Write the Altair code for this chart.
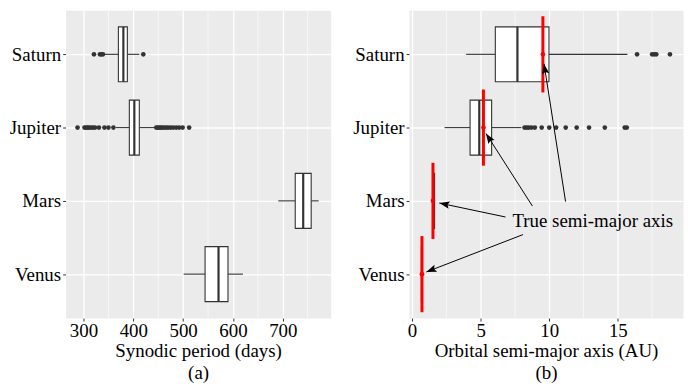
import math
import altair as alt
import pandas as pd

# ---------------- data ----------------
planets = ["Venus", "Mars", "Jupiter", "Saturn"]
positions = [1, 2, 3, 4]

# (a) synodic period, days
syn_lo = [501, 691, 365, 343]
syn_q1 = [544, 725, 392, 370]
syn_med = [571, 741, 402, 380]
syn_q3 = [590, 757, 412, 388]
syn_hi = [620, 772, 444, 412]
syn_out_jupiter = [288, 302, 305, 308, 311, 315, 319, 323, 331, 342, 350, 360,
                   446, 449, 452, 455, 458, 462, 466, 470, 475, 480, 486, 492, 499, 512]
syn_out_saturn = [321, 333, 336, 339, 420]

# (b) orbital semi-major axis, AU
au_lo = [0.70, 1.49, 2.37, 3.94]
au_q1 = [0.71, 1.50, 4.23, 6.07]
au_med = [0.72, 1.55, 4.90, 7.68]
au_q3 = [0.74, 1.64, 5.80, 9.98]
au_hi = [0.75, 1.65, 7.97, 15.70]
au_out_jupiter = [8.2, 8.35, 8.5, 8.7, 8.95, 9.45, 10.0, 10.5, 11.2, 12.0, 12.9, 14.05, 15.5, 15.65]
au_out_saturn = [16.4, 17.5, 17.65, 17.8, 18.8]
true_axis = [0.723, 1.524, 5.203, 9.537]

# annotation
note_text = "True semi-major axis"
note_x = [13.17]
note_y = [1.72]
arrow_x0 = [11.19, 8.77, 6.81, 8.09]
arrow_y0 = [1.99, 1.93, 1.78, 1.54]
arrow_x1 = [9.62, 5.39, 1.99, 1.04]
arrow_y1 = [3.87, 2.92, 1.97, 1.03]

syn_major = [300, 400, 500, 600, 700]
syn_minor = [350, 450, 550, 650, 750]
au_major = [0, 5, 10, 15]
au_minor = [2.5, 7.5, 12.5, 17.5]

# ---------------- layout / style ----------------
W_L, W_R, H = 267, 276, 310
SYN_DOM = [264, 796]
AU_DOM = [-0.22, 19.75]
Y_DOM = [0.4, 4.6]
BOX_HALF = 0.375
TRUE_HALF = 0.52
DARK = "#333333"
FONT = "Liberation Serif"
FS = 19


def stats_frame(lo, q1, med, q3, hi):
    return pd.DataFrame({
        "planet": planets, "pos": positions,
        "lo": lo, "q1": q1, "med": med, "q3": q3, "hi": hi,
        "ytop": [p + BOX_HALF for p in positions],
        "ybot": [p - BOX_HALF for p in positions],
    })


def outlier_frame(jup, sat):
    return pd.DataFrame({
        "v": list(jup) + list(sat),
        "pos": [3] * len(jup) + [4] * len(sat),
    })


ylabel_expr = "[''," + ",".join("'%s'" % p for p in planets) + "][datum.value]"
y_scale = alt.Scale(domain=Y_DOM, nice=False, zero=False)
y_axis = alt.Axis(values=positions, labelExpr=ylabel_expr, title=None, grid=True,
                  gridColor="white", gridWidth=1.3, domain=False, tickColor=DARK,
                  tickSize=3, labelPadding=2, labelFont=FONT, labelFontSize=FS,
                  labelColor="black")


def x_axis(ticks, title):
    return alt.Axis(
        values=ticks, title=title, grid=True, gridColor="white", gridWidth=1.3,
        tickColor=DARK, tickSize=3, domain=False, labelPadding=1,
        labelOverlap=False, labelFlush=False,
        labelFont=FONT, labelFontSize=FS, labelColor="black",
        titleFont=FONT, titleFontSize=FS, titleFontWeight="normal", titleColor="black",
        titlePadding=1, titleLineHeight=22,
    )


def panel(stats, outl, dom, major, minor, title, width, extra=None):
    xs = alt.Scale(domain=dom, nice=False, zero=False)
    xa = x_axis(major, title)

    def X(f):
        return alt.X(f, type="quantitative", scale=xs, axis=xa)

    def Y(f):
        return alt.Y(f, type="quantitative", scale=y_scale, axis=y_axis)

    minor_grid = alt.Chart(pd.DataFrame({"m": minor})).mark_rule(
        color="white", strokeWidth=0.6).encode(x=X("m"))
    base = alt.Chart(stats)
    whisk_lo = base.mark_rule(color=DARK, strokeWidth=1.1).encode(x=X("lo"), x2="q1", y=Y("pos"))
    whisk_hi = base.mark_rule(color=DARK, strokeWidth=1.1).encode(x=X("q3"), x2="hi", y=Y("pos"))
    box = base.mark_bar(fill="white", stroke=DARK, strokeWidth=1.1).encode(
        x=X("q1"), x2="q3", y=Y("ybot"), y2="ytop")
    med = base.mark_rule(color=DARK, strokeWidth=2.2).encode(x=X("med"), y=Y("ybot"), y2="ytop")
    pts = alt.Chart(outl).mark_circle(color=DARK, opacity=1, size=22).encode(x=X("v"), y=Y("pos"))
    layers = [minor_grid, whisk_lo, whisk_hi, box, med, pts]
    if extra is not None:
        layers += extra(X, Y)
    return alt.layer(*layers).properties(width=width, height=H)


def right_extras(X, Y):
    tdf = pd.DataFrame({"pos": positions, "t": true_axis,
                        "ybot": [p - TRUE_HALF for p in positions],
                        "ytop": [p + TRUE_HALF for p in positions]})
    red = alt.Chart(tdf).mark_rule(color="#FF0000", strokeWidth=3).encode(
        x=X("t"), y=Y("ybot"), y2="ytop")
    red_pt = alt.Chart(tdf).mark_circle(color="#FF0000", opacity=1, size=22).encode(
        x=X("t"), y=Y("pos"))
    sx = W_R / (AU_DOM[1] - AU_DOM[0])
    sy = H / (Y_DOM[1] - Y_DOM[0])
    angles = []
    for a, b, c, d in zip(arrow_x0, arrow_y0, arrow_x1, arrow_y1):
        dx = (c - a) * sx
        dy = -(d - b) * sy
        angles.append(math.degrees(math.atan2(dx, -dy)) % 360)
    adf = pd.DataFrame({"x0": arrow_x0, "y0": arrow_y0, "x1": arrow_x1, "y1": arrow_y1,
                        "angle": angles})
    lines = alt.Chart(adf).mark_rule(color="black", strokeWidth=1).encode(
        x=X("x0"), x2="x1", y=Y("y0"), y2="y1")
    heads = alt.Chart(adf).mark_point(
        shape="M0,0L0.36,1L0,0.82L-0.36,1Z", filled=True, color="black", opacity=1,
        size=420, strokeWidth=0).encode(
        x=X("x1"), y=Y("y1"), angle=alt.Angle("angle:Q", scale=None))
    ndf = pd.DataFrame({"x": note_x, "y": note_y, "label": [note_text]})
    note = alt.Chart(ndf).mark_text(font=FONT, fontSize=FS, color="black", align="center",
                                     baseline="middle").encode(x=X("x"), y=Y("y"), text="label:N")
    return [red, red_pt, lines, heads, note]


left = panel(stats_frame(syn_lo, syn_q1, syn_med, syn_q3, syn_hi),
             outlier_frame(syn_out_jupiter, syn_out_saturn), SYN_DOM, syn_major, syn_minor,
             ["Synodic period (days)", "(a)"], W_L)
right = panel(stats_frame(au_lo, au_q1, au_med, au_q3, au_hi),
              outlier_frame(au_out_jupiter, au_out_saturn), AU_DOM, au_major, au_minor,
              ["Orbital semi-major axis (AU)", "(b)"], W_R,
              extra=right_extras)

chart = alt.hconcat(left, right, spacing=20).properties(padding=0).configure_view(
    fill="#EBEBEB", stroke="transparent")

chart.save("out.html", embed_options={"renderer": "svg", "actions": False})
